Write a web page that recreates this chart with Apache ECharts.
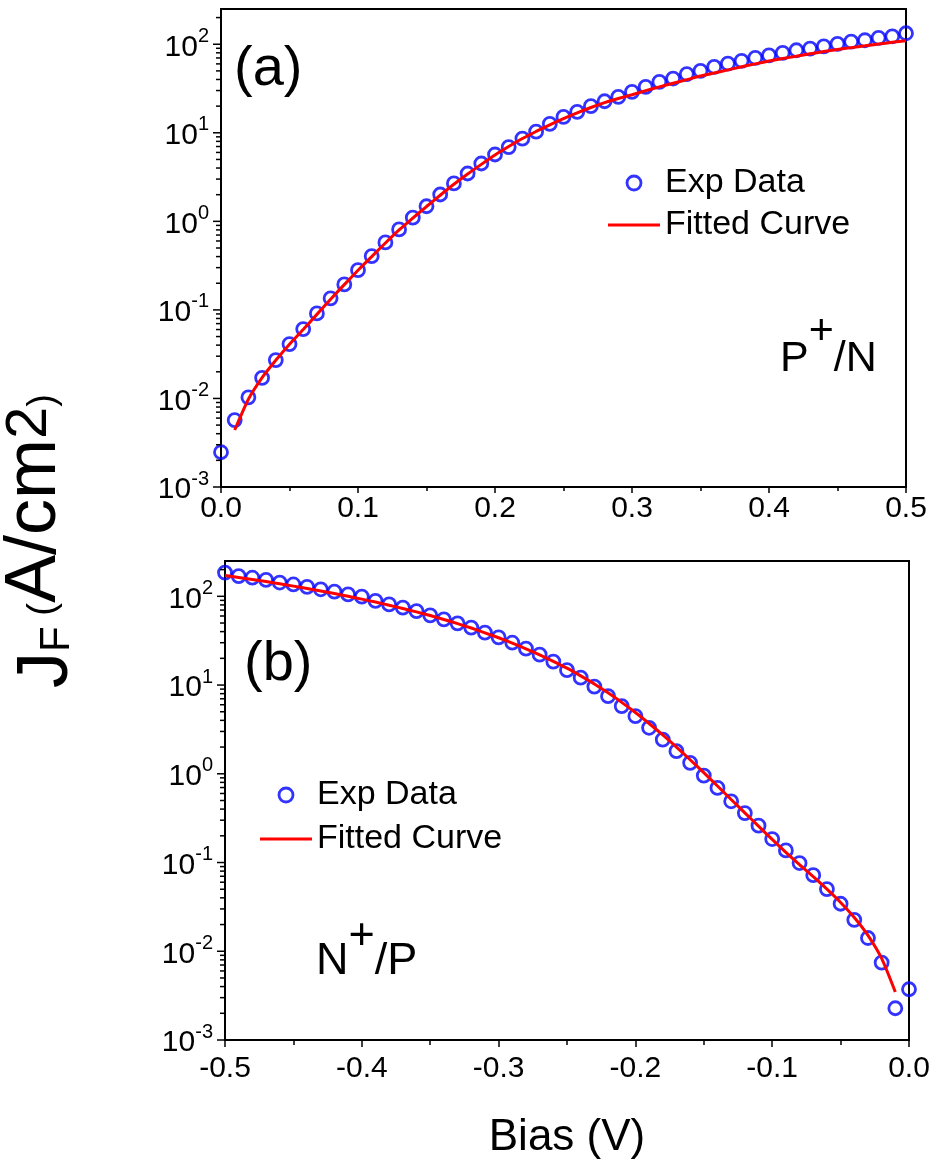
<!DOCTYPE html>
<html>
<head>
<meta charset="utf-8">
<script src="https://cdn.jsdelivr.net/npm/echarts@6/dist/echarts.min.js"></script>
<style>
html,body{margin:0;padding:0;background:#fff;}
#chart{width:937px;height:1164px;}
</style>
</head>
<body>
<div id="chart"></div>
<script>
// ---------- data ----------
const biasA = [0,0.01,0.02,0.03,0.04,0.05,0.06,0.07,0.08,0.09,0.10,0.11,0.12,0.13,0.14,0.15,0.16,0.17,0.18,0.19,0.20,0.21,0.22,0.23,0.24,0.25,0.26,0.27,0.28,0.29,0.30,0.31,0.32,0.33,0.34,0.35,0.36,0.37,0.38,0.39,0.40,0.41,0.42,0.43,0.44,0.45,0.46,0.47,0.48,0.49,0.50];
const expA = [0.00247,0.0057,0.0103,0.0171,0.0271,0.0411,0.0607,0.0912,0.135,0.194,0.281,0.404,0.578,0.81,1.10,1.48,2.01,2.68,3.47,4.50,5.69,6.9,8.6,10.3,12.6,15.1,17.2,20.0,22.7,25.4,29.0,33.0,37.6,41.0,46.0,50.0,55.5,60.5,65,70,75,79.8,85.5,89.3,94.8,101,107,111,118,123,133];
const fitBiasA = [0.01,0.02,0.03,0.04,0.05,0.06,0.07,0.08,0.09,0.10,0.11,0.12,0.13,0.14,0.15,0.16,0.17,0.18,0.19,0.20,0.21,0.22,0.23,0.24,0.25,0.26,0.27,0.28,0.29,0.30,0.31,0.32,0.33,0.34,0.35,0.36,0.37,0.38,0.39,0.40,0.41,0.42,0.43,0.44,0.45,0.46,0.47,0.48,0.49,0.50];
const fitA = [0.0044,0.0098,0.0172,0.027,0.041,0.060,0.089,0.132,0.193,0.280,0.40,0.57,0.80,1.09,1.47,1.97,2.62,3.42,4.4,5.62,7.0,8.61,10.35,12.3,14.45,16.8,19.3,21.9,24.4,26.9,29.9,33.0,36.3,39.8,43.7,47.3,51.3,55.6,60.0,64.6,68.9,73.3,78.0,82.6,87.1,91.6,95.9,100.5,105,109.6];

const biasB = [-0.50,-0.49,-0.48,-0.47,-0.46,-0.45,-0.44,-0.43,-0.42,-0.41,-0.40,-0.39,-0.38,-0.37,-0.36,-0.35,-0.34,-0.33,-0.32,-0.31,-0.30,-0.29,-0.28,-0.27,-0.26,-0.25,-0.24,-0.23,-0.22,-0.21,-0.20,-0.19,-0.18,-0.17,-0.16,-0.15,-0.14,-0.13,-0.12,-0.11,-0.10,-0.09,-0.08,-0.07,-0.06,-0.05,-0.04,-0.03,-0.02,-0.01,0.0];
const expB = [185,169,162,153,143,136,128,120,113,105,99,89,81,74.5,68,61,55,49.6,44.4,38.9,34.5,30.0,25.7,22.0,18.4,14.7,12.1,9.6,7.5,5.8,4.46,3.30,2.43,1.80,1.33,0.955,0.693,0.49,0.361,0.26,0.184,0.137,0.0987,0.072,0.0502,0.0343,0.0226,0.0141,0.00746,0.00228,0.00373];
const fitBiasB = [-0.50,-0.49,-0.48,-0.47,-0.46,-0.45,-0.44,-0.43,-0.42,-0.41,-0.40,-0.39,-0.38,-0.37,-0.36,-0.35,-0.34,-0.33,-0.32,-0.31,-0.30,-0.29,-0.28,-0.27,-0.26,-0.25,-0.24,-0.23,-0.22,-0.21,-0.20,-0.19,-0.18,-0.17,-0.16,-0.15,-0.14,-0.13,-0.12,-0.11,-0.10,-0.09,-0.08,-0.07,-0.06,-0.05,-0.04,-0.03,-0.02,-0.01];
const fitB = [171.8,163.3,154.9,146.6,138.4,130.3,122.5,114.8,107.4,100,92.9,86.1,79.4,72.9,66.7,60.7,54.8,49.2,43.9,38.8,34.1,29.7,25.6,21.9,18.5,15.5,12.7,10.3,8.17,6.38,4.90,3.69,2.74,2.0,1.44,1.03,0.728,0.513,0.363,0.257,0.182,0.130,0.0944,0.0692,0.0501,0.0355,0.0240,0.0151,0.0083,0.00347];

// axis ticks
const yDecades = [0.001,0.01,0.1,1,10,100];
const yMinorMult = [2,3,4,5,6,7,8,9];
const yMin = 0.001, yMax = 250;
const xRangeA = [0, 0.5];
const xRangeB = [-0.5, 0];

// ---------- helpers ----------
const FONT = '"Liberation Sans", Arial, sans-serif';
const zip = (a, b) => a.map((v, i) => [v, b[i]]);
function yTickData(xAt) {
  const out = [];
  yDecades.forEach(d => {
    out.push([xAt, d, 1]);
    yMinorMult.forEach(m => { const v = d * m; if (v <= yMax) out.push([xAt, v, 0]); });
  });
  return out;
}
function tickRender(params, api) {
  const p = api.coord([api.value(0), api.value(1)]);
  const len = api.value(2) ? 8 : 5;
  return { type: 'line', shape: { x1: p[0] - len, y1: p[1], x2: p[0], y2: p[1] },
           style: { stroke: '#000', lineWidth: 1.5 } };
}
function logLabel(v) {
  const e = Math.round(Math.log10(v));
  if (Math.abs(Math.log10(v) - e) > 1e-6) return '';
  return '{b|10}{s|' + e + '}';
}
const yLabelRich = {
  b: { fontSize: 30, fontFamily: FONT, color: '#000', lineHeight: 36, verticalAlign: 'bottom' },
  s: { fontSize: 20, fontFamily: FONT, color: '#000', lineHeight: 20, verticalAlign: 'top' }
};
function xAxisCfg(grid, range, tickLen, minorLen, margin) {
  return {
    gridIndex: grid, type: 'value', min: range[0], max: range[1], interval: 0.1,
    axisLine: { show: true, onZero: false, lineStyle: { color: '#000', width: 2 } },
    axisTick: { show: true, inside: false, length: tickLen, lineStyle: { color: '#000', width: 1.5 } },
    minorTick: { show: true, splitNumber: 2, length: minorLen, lineStyle: { color: '#000', width: 1.5 } },
    splitLine: { show: false }, minorSplitLine: { show: false },
    axisLabel: { fontSize: 30, fontFamily: FONT, color: '#000', margin: margin,
      formatter: v => (Math.abs(v) < 1e-9 ? '0.0' : v.toFixed(1)) }
  };
}
function yAxisCfg(grid) {
  return {
    gridIndex: grid, type: 'log', logBase: 10, min: yMin, max: yMax,
    axisLine: { show: true, lineStyle: { color: '#000', width: 2 } },
    axisTick: { show: false }, minorTick: { show: false },
    splitLine: { show: false },
    axisLabel: { margin: 12, formatter: logLabel, rich: yLabelRich }
  };
}
const expStyle = { color: 'rgba(0,0,0,0)', borderColor: '#0000FF', borderWidth: 2.8 };
const fitLine = { color: '#FF0000', width: 3 };
function legendCfg(left, top, gap) {
  return {
    left: left, top: top, orient: 'vertical', padding: 0, itemGap: gap,
    itemWidth: 52, itemHeight: 14,
    textStyle: { fontSize: 34, fontFamily: FONT, color: '#000' },
    data: [
      { name: 'Exp Data', icon: 'circle', itemStyle: expStyle },
      { name: 'Fitted Curve', icon: 'path://M0,0H52V3H0Z', itemStyle: { color: '#FF0000', borderWidth: 0 } }
    ]
  };
}
function richLabel(x, y, fs, t1, t2, lift) {
  return {
    type: 'text', x: x, y: y, silent: true,
    style: {
      text: '{m|' + t1 + '}{p|+}{m|' + t2 + '}',
      align: 'left', verticalAlign: 'bottom',
      rich: {
        m: { fontSize: fs, fontFamily: FONT, color: '#000', lineHeight: fs, verticalAlign: 'bottom' },
        p: { fontSize: fs, fontFamily: FONT, color: '#000', lineHeight: fs, verticalAlign: 'bottom', padding: [0, 0, lift, 0] }
      }
    }
  };
}

const chart = echarts.init(document.getElementById('chart'), null, { renderer: 'canvas' });
chart.setOption({
  animation: false,
  backgroundColor: '#fff',
  grid: [
    { left: 221, top: 9, width: 685, height: 478, show: true, borderColor: '#000', borderWidth: 2, backgroundColor: 'transparent' },
    { left: 225, top: 561, width: 684, height: 479, show: true, borderColor: '#000', borderWidth: 2, backgroundColor: 'transparent' }
  ],
  xAxis: [ xAxisCfg(0, xRangeA, 6, 4, 7), xAxisCfg(1, xRangeB, 7, 5, 14) ],
  yAxis: [ yAxisCfg(0), yAxisCfg(1) ],
  legend: [ legendCfg(608, 166, 8), legendCfg(260, 778, 10) ],
  series: [
    { name: 'Exp Data', type: 'scatter', xAxisIndex: 0, yAxisIndex: 0, data: zip(biasA, expA),
      symbol: 'circle', symbolSize: 13, itemStyle: expStyle, clip: false, z: 2 },
    { name: 'Fitted Curve', type: 'line', xAxisIndex: 0, yAxisIndex: 0, data: zip(fitBiasA, fitA),
      symbol: 'none', showSymbol: false, smooth: 0.2, lineStyle: fitLine, itemStyle: { color: '#FF0000' }, z: 3 },
    { name: 'Exp Data', type: 'scatter', xAxisIndex: 1, yAxisIndex: 1, data: zip(biasB, expB),
      symbol: 'circle', symbolSize: 13, itemStyle: expStyle, clip: false, z: 2 },
    { name: 'Fitted Curve', type: 'line', xAxisIndex: 1, yAxisIndex: 1, data: zip(fitBiasB, fitB),
      symbol: 'none', showSymbol: false, smooth: 0.2, lineStyle: fitLine, itemStyle: { color: '#FF0000' }, z: 3 },
    { type: 'custom', xAxisIndex: 0, yAxisIndex: 0, data: yTickData(xRangeA[0]), renderItem: tickRender, silent: true, clip: false, z: 4 },
    { type: 'custom', xAxisIndex: 1, yAxisIndex: 1, data: yTickData(xRangeB[0]), renderItem: tickRender, silent: true, clip: false, z: 4 }
  ],
  graphic: [
    { type: 'text', x: 234, y: 70, silent: true,
      style: { text: '(a)', fontSize: 56, fontFamily: FONT, fill: '#000', align: 'left', verticalAlign: 'middle' } },
    { type: 'text', x: 244, y: 665, silent: true,
      style: { text: '(b)', fontSize: 56, fontFamily: FONT, fill: '#000', align: 'left', verticalAlign: 'middle' } },
    richLabel(780, 381, 43, 'P', '/N', 27),
    richLabel(316, 984, 45, 'N', '/P', 25),
    { type: 'text', x: 567, y: 1138, silent: true,
      style: { text: 'Bias (V)', fontSize: 44, fontFamily: FONT, fill: '#000', align: 'center', verticalAlign: 'middle' } },
    { type: 'text', x: 47, y: 541, rotation: Math.PI / 2, silent: true,
      style: {
        text: '{j|J}{f|F}{p| (}{a|A/cm}{t|2}{p|)}',
        align: 'center', verticalAlign: 'middle',
        rich: {
          j: { fontSize: 72, fontFamily: FONT, color: '#000', lineHeight: 72, verticalAlign: 'bottom' },
          f: { fontSize: 42, fontFamily: FONT, color: '#000', lineHeight: 42, verticalAlign: 'bottom', padding: [0, 0, 5, 0] },
          p: { fontSize: 38, fontFamily: FONT, color: '#000', lineHeight: 38, verticalAlign: 'bottom', padding: [0, 0, 20, 0] },
          a: { fontSize: 72, fontFamily: FONT, color: '#000', lineHeight: 72, verticalAlign: 'bottom', padding: [0, 0, 12, 0] },
          t: { fontSize: 58, fontFamily: FONT, color: '#000', lineHeight: 58, verticalAlign: 'bottom', padding: [0, 0, 24, 0] }
        }
      } }
  ]
});
</script>
</body>
</html>
